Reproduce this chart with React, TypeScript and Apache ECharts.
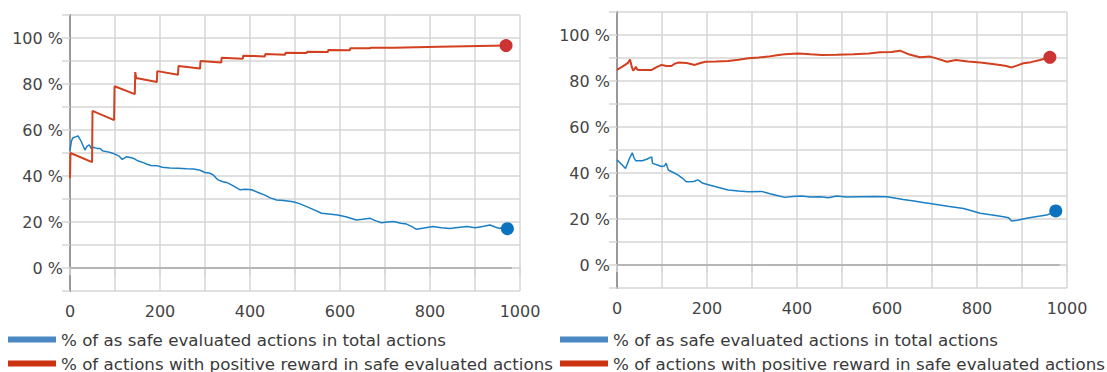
import React, { useEffect, useRef } from "react";
import * as echarts from "echarts";

const seriesNames = [
  "% of as safe evaluated actions in total actions",
  "% of actions with positive reward in safe evaluated actions",
];

const xTicks = [0, 200, 400, 600, 800, 1000];
const yTicks = [0, 20, 40, 60, 80, 100];

const leftSafe: [number, number][] = [
  [0, 51], [3, 55], [6, 56.5], [12, 57], [18, 57.4], [25, 55], [33, 51.3], [38, 53], [43, 53.5], [47, 52],
  [51, 52.5], [60, 52], [67, 52], [72, 51], [81, 50.6], [90, 50.2], [100, 49.5], [110, 48.5], [116, 47.2],
  [126, 48.4], [141, 47.7], [152, 46.5], [163, 45.8], [170, 45.2], [180, 44.6], [193, 44.5], [205, 43.8],
  [222, 43.5], [240, 43.4], [259, 43.1], [275, 43], [289, 42.5], [300, 41.5], [311, 41.2], [318, 40.5],
  [325, 39], [329, 38.3], [340, 37.5], [348, 37.2], [360, 36], [378, 34], [390, 34.2], [404, 34],
  [418, 32.8], [433, 31.7], [445, 30.5], [459, 29.6], [475, 29.3], [496, 28.8], [510, 28], [526, 26.7],
  [540, 25.5], [559, 23.8], [575, 23.5], [595, 23], [615, 22.2], [636, 20.9], [650, 21.2], [667, 21.6],
  [680, 20.5], [692, 19.7], [705, 20], [719, 20.2], [735, 19.5], [748, 19.1], [760, 18], [770, 16.8],
  [790, 17.5], [807, 18], [825, 17.5], [844, 17.2], [862, 17.6], [882, 18], [900, 17.5], [920, 18.2],
  [933, 18.7], [945, 17.8], [955, 17.2], [962, 17.8], [972, 17.1],
];

const leftReward: [number, number][] = [
  [0, 39], [1, 50], [49, 46], [50, 68.3], [98, 64.3], [99, 79], [144, 75.6], [145, 85.2], [147, 82.6],
  [193, 80.9], [194, 85.6], [240, 84], [241, 87.8], [289, 86.7], [290, 90], [336, 89.3], [337, 91.4],
  [384, 91], [385, 92.3], [433, 92], [434, 93], [478, 92.7], [479, 93.6], [526, 93.5], [527, 94],
  [573, 93.9], [574, 94.8], [622, 94.7], [623, 95.5], [667, 95.5], [668, 95.8], [720, 95.8], [721, 96],
  [770, 96], [771, 96.2], [820, 96.2], [821, 96.4], [880, 96.4], [881, 96.6], [969, 96.7],
];

const rightSafe: [number, number][] = [
  [0, 45.7], [10, 43.8], [19, 42], [27, 46], [34, 48.8], [38, 46.5], [42, 45.3], [56, 45.3], [66, 46],
  [77, 47], [79, 44.2], [90, 43.5], [99, 42.8], [105, 43], [109, 44.2], [114, 41.3], [125, 40.2],
  [136, 39.1], [145, 37.8], [154, 36.2], [170, 36.3], [180, 37], [191, 35.5], [205, 34.8], [224, 33.8],
  [247, 32.6], [270, 32.2], [292, 31.9], [321, 32], [340, 31], [360, 30], [373, 29.4], [390, 29.8],
  [410, 30], [430, 29.6], [451, 29.7], [470, 29.2], [488, 30], [510, 29.6], [540, 29.7], [570, 29.8],
  [599, 29.7], [620, 29], [636, 28.5], [660, 27.8], [680, 27.2], [703, 26.5], [735, 25.5], [770, 24.6],
  [790, 23.5], [807, 22.5], [830, 21.8], [859, 21], [870, 20.5], [877, 19.1], [890, 19.5], [910, 20.3],
  [930, 21], [955, 21.7], [975, 23.5],
];

const rightReward: [number, number][] = [
  [0, 84.8], [10, 86], [18, 87], [25, 88], [29, 89.4], [33, 86], [36, 84.5], [40, 85.5], [42, 86.2],
  [45, 85], [47, 84.8], [60, 84.8], [77, 84.8], [88, 86], [99, 87], [110, 86.5], [121, 86.5], [128, 87.5],
  [136, 88], [155, 87.8], [173, 87], [180, 87.5], [196, 88.4], [220, 88.5], [247, 88.7], [270, 89.2],
  [292, 89.9], [315, 90.2], [336, 90.6], [355, 91.2], [373, 91.6], [403, 92], [430, 91.6], [455, 91.3],
  [488, 91.4], [525, 91.6], [560, 92], [584, 92.5], [610, 92.6], [629, 93.2], [650, 91.5], [673, 90.3],
  [696, 90.6], [715, 89.5], [733, 88.4], [753, 89.1], [780, 88.5], [807, 88], [830, 87.5], [851, 87],
  [865, 86.5], [877, 85.9], [890, 86.8], [903, 87.7], [920, 88.2], [940, 89.1], [962, 90.3],
];

const BLUE = "#1a7fc4";
const BLUE_DOT = "#0b72bf";
const BLUE_LEGEND = "#4a88c4";
const RED = "#d2401f";
const RED_DOT = "#cc3333";
const RED_LEGEND = "#cc3311";
const FONT = "DejaVu Sans";
const GRID = "#d6d6d6";

function withDot(points: [number, number][], color: string) {
  return points.map((p, i) =>
    i === points.length - 1
      ? { value: p, symbol: "circle", symbolSize: 13, itemStyle: { color } }
      : { value: p }
  );
}

function xAxis(gridIndex: number) {
  return {
    type: "value",
    gridIndex,
    min: 0,
    max: 1000,
    interval: 100,
    axisLine: { show: true, lineStyle: { color: GRID, width: 1.5 } },
    axisTick: { show: true, length: 7, lineStyle: { color: GRID, width: 1.5 } },
    splitLine: { show: true, lineStyle: { color: GRID, width: 1.5 } },
    axisLabel: {
      margin: 12,
      fontFamily: FONT,
      fontSize: 16,
      color: "#444",
      formatter: (v: number) => (xTicks.includes(v) ? String(v) : ""),
    },
  };
}

function yAxis(gridIndex: number) {
  return {
    type: "value",
    gridIndex,
    min: -10,
    max: 110,
    interval: 10,
    axisLine: { show: true, onZero: false, lineStyle: { color: "#999", width: 2 } },
    axisTick: { show: true, length: 8, lineStyle: { color: GRID, width: 1.5 } },
    splitLine: { show: true, lineStyle: { color: GRID, width: 1.5 } },
    axisLabel: {
      margin: 7,
      fontFamily: FONT,
      fontSize: 16,
      color: "#444",
      formatter: (v: number) => (yTicks.includes(v) ? v + " %" : ""),
    },
  };
}

function zeroLine(end: number) {
  return {
    silent: true,
    symbol: "none",
    label: { show: false },
    lineStyle: { color: "#aaa", width: 1.5, type: "solid" },
    data: [[{ coord: [0, 0] }, { coord: [end, 0] }]],
  };
}

function legend(left: number, top: number, idx: number, color: string) {
  return {
    left,
    top,
    padding: 0,
    icon: "rect",
    itemWidth: 48,
    itemHeight: 6,
    selectedMode: false,
    textStyle: { fontFamily: FONT, fontSize: 16.7, color: "#3a3a3a", lineHeight: 16 },
    data: [{ name: seriesNames[idx], itemStyle: { color } }],
  };
}

export default function App() {
  const ref = useRef<HTMLDivElement>(null);
  useEffect(() => {
    if (!ref.current) return;
    const chart = echarts.init(ref.current, null, { renderer: "svg" });
    chart.setOption({
      animation: false,
      grid: [
        { left: 70, top: 15, width: 450, height: 276 },
        { left: 617, top: 12, width: 450, height: 276 },
      ],
      xAxis: [xAxis(0), xAxis(1)],
      yAxis: [yAxis(0), yAxis(1)],
      legend: [
        legend(8, 331, 0, BLUE_LEGEND),
        legend(8, 355, 1, RED_LEGEND),
        legend(560, 331, 0, BLUE_LEGEND),
        legend(560, 355, 1, RED_LEGEND),
      ],
      series: [
        {
          name: seriesNames[0],
          type: "line",
          xAxisIndex: 0,
          yAxisIndex: 0,
          symbol: "none",
          data: withDot(leftSafe, BLUE_DOT),
          lineStyle: { color: BLUE, width: 1.5 },
          itemStyle: { color: BLUE },
          markLine: zeroLine(982),
          z: 3,
        },
        {
          name: seriesNames[1],
          type: "line",
          xAxisIndex: 0,
          yAxisIndex: 0,
          symbol: "none",
          data: withDot(leftReward, RED_DOT),
          lineStyle: { color: RED, width: 2 },
          itemStyle: { color: RED },
          z: 3,
        },
        {
          name: seriesNames[0],
          type: "line",
          xAxisIndex: 1,
          yAxisIndex: 1,
          symbol: "none",
          data: withDot(rightSafe, BLUE_DOT),
          lineStyle: { color: BLUE, width: 1.5 },
          itemStyle: { color: BLUE },
          markLine: zeroLine(984),
          z: 3,
        },
        {
          name: seriesNames[1],
          type: "line",
          xAxisIndex: 1,
          yAxisIndex: 1,
          symbol: "none",
          data: withDot(rightReward, RED_DOT),
          lineStyle: { color: RED, width: 2 },
          itemStyle: { color: RED },
          z: 3,
        },
      ],
    });
    return () => chart.dispose();
  }, []);
  return (
    <div
      ref={ref}
      style={{ position: "absolute", left: 0, top: 0, width: 1107, height: 372, background: "#fff" }}
    />
  );
}
